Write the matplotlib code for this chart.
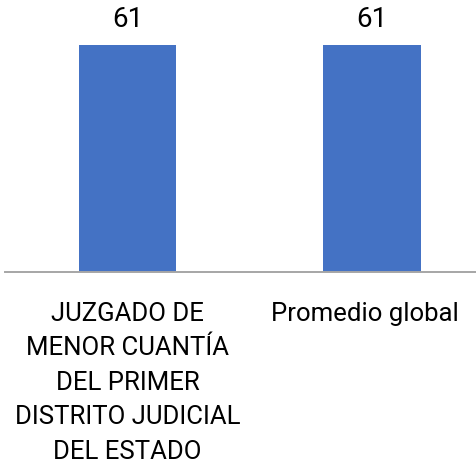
import matplotlib
matplotlib.use("Agg")
import matplotlib.pyplot as plt
import matplotlib.transforms as mtransforms

categories = ["JUZGADO DE\nMENOR CUANTÍA\nDEL PRIMER\nDISTRITO JUDICIAL\nDEL ESTADO", "Promedio global"]
values = [61, 61]
value_labels = ["61", "61"]

plt.rcParams['font.family'] = ['Roboto', 'DejaVu Sans']

fig = plt.figure(figsize=(4.77, 4.66), dpi=100)
ax = fig.add_axes([5/477, (466-272)/466, 472/477, 272/466])

x = list(range(len(categories)))
bars = ax.bar(x, values, width=0.40, color="#4472C4", zorder=2)
ax.set_xlim(-0.501, 1.43)
ax.set_ylim(0, 73.1)

for rect, lab in zip(bars, value_labels):
    ax.annotate(lab, (rect.get_x() + rect.get_width()/2, rect.get_height()),
                xytext=(0, 13), textcoords="offset points", ha="center", va="baseline",
                fontsize=20, color="#000000")

for s in ["top", "right", "left"]:
    ax.spines[s].set_visible(False)
ax.spines["bottom"].set_color("#A6A6A6")
ax.spines["bottom"].set_linewidth(1.4)
ax.set_yticks([])
ax.set_xticks(x)
ax.set_xticklabels(categories, fontsize=18.5, linespacing=1.55)
ax.tick_params(axis="x", length=0, pad=21.5)
lbl = ax.get_xticklabels()[1]
lbl.set_transform(lbl.get_transform() + mtransforms.ScaledTranslation(-7/100, 0, fig.dpi_scale_trans))

fig.savefig("out.png", dpi=100)
